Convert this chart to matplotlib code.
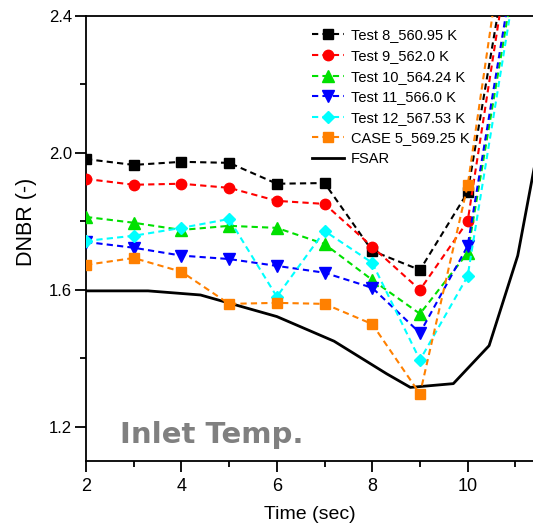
import matplotlib
matplotlib.use("Agg")
import matplotlib.pyplot as plt
from matplotlib.ticker import MultipleLocator

plt.rcParams['font.family'] = ['Liberation Sans', 'DejaVu Sans']

time = [2, 3, 4, 5, 6, 7, 8, 9, 10, 11]
test8 = [1.982, 1.965, 1.974, 1.971, 1.910, 1.912, 1.714, 1.658, 1.885, 2.71]
test9 = [1.924, 1.907, 1.910, 1.898, 1.860, 1.851, 1.726, 1.600, 1.800, 2.70]
test10 = [1.813, 1.796, 1.775, 1.787, 1.781, 1.734, 1.629, 1.530, 1.708, 2.53]
test11 = [1.740, 1.723, 1.700, 1.690, 1.670, 1.650, 1.606, 1.474, 1.728, 2.57]
test12 = [1.743, 1.758, 1.781, 1.807, 1.580, 1.772, 1.679, 1.395, 1.640, 2.50]
case5 = [1.673, 1.693, 1.653, 1.559, 1.562, 1.559, 1.500, 1.296, 1.905, 2.86]

fsar_time = [2, 3.3, 4.4, 6.0, 7.2, 8.3, 8.8, 9.7, 10.45, 11.05, 11.4]
fsar = [1.597, 1.597, 1.585, 1.522, 1.450, 1.355, 1.315, 1.326, 1.437, 1.700, 1.96]

labels = ["Test 8_560.95 K", "Test 9_562.0 K", "Test 10_564.24 K",
          "Test 11_566.0 K", "Test 12_567.53 K", "CASE 5_569.25 K", "FSAR"]

series = [test8, test9, test10, test11, test12, case5]
colors = ["#000000", "#ff0000", "#00e000", "#0000ff", "#00ffff", "#ff8000"]
markers = ["s", "o", "^", "v", "D", "s"]
msizes = [7, 7.5, 8, 8, 6.5, 7]

fig = plt.figure(figsize=(5.33, 5.30), dpi=100)
ax = fig.add_axes([86/533, 1-461/530, 1-86/533, (461-16)/530])

for y, c, m, ms, lab in zip(series, colors, markers, msizes, labels[:6]):
    ax.plot(time, y, color=c, ls=(0, (3, 2)), lw=1.5, marker=m, ms=ms,
            mec=c, mfc=c, label=lab, zorder=3)
ax.plot(fsar_time, fsar, color="black", lw=2, label=labels[6], zorder=2)

ax.set_xlim(2, 11.37)
ax.set_ylim(1.1, 2.4)
ax.xaxis.set_major_locator(MultipleLocator(2))
ax.xaxis.set_minor_locator(MultipleLocator(1))
ax.yaxis.set_major_locator(MultipleLocator(0.4))
ax.yaxis.set_minor_locator(MultipleLocator(0.2))
ax.yaxis.set_major_formatter(matplotlib.ticker.FormatStrFormatter('%.1f'))
ax.tick_params(which='major', direction='out', length=8, width=1.3)
ax.tick_params(which='minor', direction='out', length=4.5, width=1.3)
ax.tick_params(axis='y', labelsize=12, pad=2)
ax.tick_params(axis='x', labelsize=13, pad=4)
ax.spines['right'].set_visible(False)
for s in ['left', 'bottom', 'top']:
    ax.spines[s].set_linewidth(1.3)

ax.set_xlabel("Time (sec)", fontsize=14, labelpad=8)
ax.set_ylabel("DNBR (-)", fontsize=15.5)
ax.yaxis.set_label_coords(-0.11, 0.537)

ax.text(0.077, 0.04, "Inlet Temp.", transform=ax.transAxes, fontsize=21,
        fontweight='bold', color='#808080', family='DejaVu Sans')

ax.legend(loc='upper left', bbox_to_anchor=(0.492, 0.985), frameon=False,
          fontsize=10.5, handlelength=2.2, handletextpad=0.5, labelspacing=0.45,
          borderaxespad=0)

fig.savefig("out.png", dpi=100)
